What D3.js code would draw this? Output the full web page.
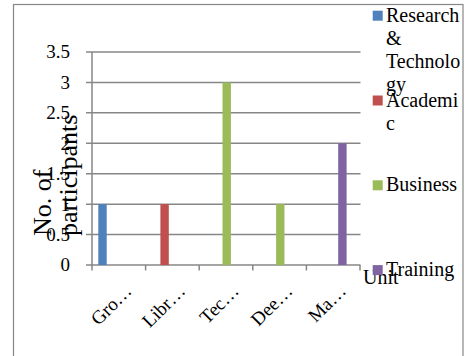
<!DOCTYPE html>
<html><head><meta charset="utf-8">
<script src="https://cdn.jsdelivr.net/npm/d3@7"></script>
<style>
body{margin:0;background:#fff}
svg{display:block}
svg text{font-family:"Liberation Serif","Times New Roman",Times,serif}
</style>
</head><body>
<svg id="chart" width="466" height="356"></svg>
<script>
// ---- data ----
const categories = ["Gro…", "Libr…", "Tec…", "Dee…", "Ma…"];
const seriesNames = ["Research & Technology", "Academic", "Business", "Training"];
const researchValues = [1, 0, 0, 0, 0];
const academicValues = [0, 1, 0, 0, 0];
const businessValues = [0, 0, 3, 1, 0];
const trainingValues = [0, 0, 0, 0, 2];
const yTickValues = [0, 0.5, 1, 1.5, 2, 2.5, 3, 3.5];
const yTickLabels = ["0", "0.5", "1", "1.5", "2", "2.5", "3", "3.5"];
const seriesColors = ["#4F81BD", "#C0504D", "#9BBB59", "#8064A2"];
const yTitleLines = ["No. of", "participants"];
const xTitle = "Unit";

const seriesValues = [researchValues, academicValues, businessValues, trainingValues];

const svg = d3.select("#chart");
const grey = "#878787";

// outer frame
svg.append("rect").attr("x", 13.5).attr("y", 4.5).attr("width", 449.5).attr("height", 360)
  .attr("fill", "none").attr("stroke", grey).attr("stroke-width", 1.2);

// scales
const x0 = d3.scaleBand().domain(categories).range([92, 360]).padding(0);
const x1 = d3.scaleBand().domain(seriesNames).range([6.3, 6.3 + 34]).padding(0);
const y = d3.scaleLinear().domain([0, 3.5]).range([265, 52]);

// gridlines
svg.append("g").selectAll("line").data(yTickValues).join("line")
  .attr("x1", 86).attr("x2", 360.5)
  .attr("y1", d => y(d)).attr("y2", d => y(d))
  .attr("stroke", grey).attr("stroke-width", 1.5);

// y axis line
svg.append("line").attr("x1", x0.range()[0]).attr("x2", x0.range()[0])
  .attr("y1", y(3.5)).attr("y2", y(0) + 0.75)
  .attr("stroke", grey).attr("stroke-width", 1.5);

// x axis ticks at category boundaries
const boundaries = categories.map(c => x0(c)).concat([x0.range()[1]]);
svg.append("g").selectAll("line").data(boundaries).join("line")
  .attr("x1", d => d).attr("x2", d => d)
  .attr("y1", y(0)).attr("y2", y(0) + 5.5)
  .attr("stroke", grey).attr("stroke-width", 1.5);

// bars
const barData = [];
seriesNames.forEach((s, si) => {
  categories.forEach((c, ci) => {
    const v = seriesValues[si][ci];
    if (v > 0) barData.push({ s, c, v, color: seriesColors[si] });
  });
});
svg.append("g").selectAll("rect").data(barData).join("rect")
  .attr("x", d => x0(d.c) + x1(d.s))
  .attr("width", x1.bandwidth() - 0.1)
  .attr("y", d => y(d.v))
  .attr("height", d => y(0) - y(d.v))
  .attr("fill", d => d.color);

// y tick labels
svg.append("g").selectAll("text").data(yTickValues).join("text")
  .attr("x", 70).attr("y", d => y(d)).attr("dy", "0.34em")
  .attr("text-anchor", "end").attr("font-size", 19).attr("fill", "#000")
  .text((d, i) => yTickLabels[i]);

// x tick labels (rotated)
svg.append("g").selectAll("text").data(categories).join("text")
  .attr("transform", d => `translate(${x0(d) + x0.bandwidth() / 2 + 14},${292}) rotate(-45)`)
  .attr("text-anchor", "end").attr("font-size", 19).attr("fill", "#000")
  .text(d => d);

// y axis title
svg.append("g").selectAll("text").data(yTitleLines).join("text")
  .attr("transform", (d, i) => `translate(${51 + i * 26},236) rotate(-90)`)
  .attr("text-anchor", "start").attr("font-size", 26).attr("fill", "#000")
  .text(d => d);

// x axis title
svg.append("text").attr("x", 363).attr("y", 284).attr("font-size", 20).attr("fill", "#000")
  .text(xTitle);

// legend
const legendTop = 10.7, legendStep = 84.8, maxW = 78, lineH = 23;
const leg = svg.append("g").attr("font-size", 20).attr("fill", "#000");
function wrapLines(label) {
  const probe = leg.append("text").attr("visibility", "hidden");
  const measure = t => { probe.text(t); return probe.node().getComputedTextLength(); };
  const lines = [];
  let cur = "";
  label.split(" ").forEach(word => {
    const trial = cur ? cur + " " + word : word;
    if (measure(trial) <= maxW) { cur = trial; return; }
    if (cur) { lines.push(cur); cur = ""; }
    let w = word;
    while (measure(w) > maxW) {
      let k = w.length;
      while (k > 1 && measure(w.slice(0, k)) > maxW) k--;
      lines.push(w.slice(0, k));
      w = w.slice(k);
    }
    cur = w;
  });
  if (cur) lines.push(cur);
  probe.remove();
  return lines;
}
seriesNames.forEach((s, i) => {
  const top = legendTop + i * legendStep;
  leg.append("rect").attr("x", 372.7).attr("y", top).attr("width", 10).attr("height", 10)
    .attr("fill", seriesColors[i]);
  const t = leg.append("text").attr("x", 386).attr("y", top + 11);
  wrapLines(s).forEach((ln, j) => {
    t.append("tspan").attr("x", 386).attr("dy", j === 0 ? 0 : lineH).text(ln);
  });
});
</script>
</body></html>
